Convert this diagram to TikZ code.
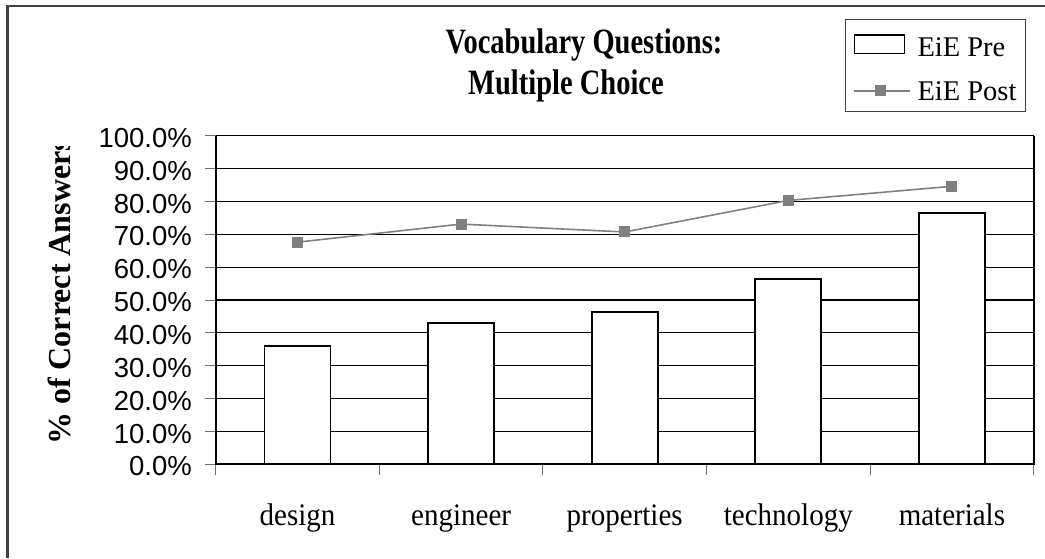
\documentclass[tikz,border=0pt]{standalone}
\usepackage{fontspec}
\setmainfont{Liberation Serif}
\newfontfamily\arialf{Liberation Sans}
\definecolor{postgray}{HTML}{808080}
\definecolor{framegray}{HTML}{404040}
\definecolor{tickgray}{HTML}{707070}
\newcommand{\tallbox}[2]{\scalebox{1}[#1]{#2}}
\begin{document}
\begin{tikzpicture}[x=1pt,y=-1pt,
  frameline/.style={line width=2.2pt, framegray},
  gridline/.style={line width=1.1pt, black},
  axisline/.style={line width=2pt, black},
  tickmark/.style={line width=1pt, tickgray},
  barbox/.style={draw=black, line width=1.8pt, fill=white},
  postline/.style={line width=1.6pt, postgray},
  marker/.style={rectangle, fill=postgray, minimum size=11pt, inner sep=0pt},
  ticklabel/.style={font=\arialf\fontsize{27.5}{30}\selectfont, anchor=base east, inner sep=0pt},
  catlabel/.style={font=\fontsize{29}{32}\selectfont, anchor=base, inner sep=0pt},
  titletext/.style={font=\bfseries\fontsize{28.5}{32}\selectfont, anchor=base, inner sep=0pt},
  legendtext/.style={font=\fontsize{28.5}{32}\selectfont, anchor=base west, inner sep=0pt},
  legendframe/.style={draw=framegray, line width=1pt}
]
\useasboundingbox (0,0) rectangle (1045,558);

% outer chart frame (top and left edges)
\draw[frameline] (7.5,558) -- (7.5,5.7) -- (1045,5.7);

% title
\node[titletext] (title1) at (584,53.5) {\tallbox{1.25}{Vocabulary Questions:}};
\node[titletext] (title2) at (566,94) {\tallbox{1.25}{Multiple Choice}};

% vertical axis title
\begin{scope}
  \clip (0,146.5) rectangle (200,558);
  \node[rotate=90, anchor=base west, inner sep=0pt,
        font=\bfseries\fontsize{32}{36}\selectfont] (ytitle) at (70,445) {\% of Correct Answers};
\end{scope}

% horizontal gridlines, y ticks and labels
\foreach \k in {0,...,10} {
  \pgfmathsetmacro\yy{464.3-32.86*\k}
  \pgfmathtruncatemacro\pc{10*\k}
  \draw[tickmark] (205,\yy) -- (215.7,\yy);
  \ifnum\k>0
    \draw[gridline] (215.7,\yy) -- (1033.7,\yy);
  \fi
  \node[ticklabel] (yl\k) at (192,{\yy+11.6}) {\pc.0\%};
}

% category ticks below the horizontal axis
\foreach \j in {0,...,5} {
  \pgfmathsetmacro\xx{215.7+163.6*\j}
  \draw[tickmark] (\xx,464.3) -- (\xx,475);
}

% EiE Pre bars
\foreach \i/\v in {1/36.1, 2/42.9, 3/46.4, 4/56.4, 5/76.4} {
  \pgfmathsetmacro\xc{215.7+163.6*(\i-0.5)}
  \draw[barbox] ({\xc-33},464.3) rectangle ({\xc+33},{464.3-3.286*\v});
}

% axes and plot border
\draw[axisline] (215.7,135.7) -- (215.7,464.3) -- (1033.7,464.3) -- (1033.7,135.7);

% EiE Post series
\foreach \i/\v in {1/67.6, 2/73.1, 3/70.7, 4/80.3, 5/84.6} {
  \pgfmathsetmacro\xc{215.7+163.6*(\i-0.5)}
  \coordinate (c\i) at (\xc,{464.3-3.286*\v});
}
\draw[postline] (c1) -- (c2) -- (c3) -- (c4) -- (c5);
\foreach \i in {1,...,5} {
  \node[marker] (m\i) at (c\i) {};
}

% category labels
\foreach \i/\t in {1/design, 2/engineer, 3/properties, 4/technology, 5/materials} {
  \pgfmathsetmacro\xc{215.7+163.6*(\i-0.5)}
  \node[catlabel] (cat\i) at (\xc,525) {\tallbox{1.08}{\t}};
}

% legend
\draw[legendframe] (845.3,19.3) rectangle (1025.3,111);
\draw[barbox, line width=1.5pt] (854.3,35) rectangle (904.3,53.3);
\node[legendtext] (lpre) at (917.3,56) {EiE Pre};
\coordinate (lpa) at (854.3,90.7);
\coordinate (lpb) at (910,90.7);
\draw[postline] (lpa) -- (lpb);
\node[marker] (lmk) at (880.3,90.7) {};
\node[legendtext] (lpost) at (917.3,100) {EiE Post};
\end{tikzpicture}
\end{document}
